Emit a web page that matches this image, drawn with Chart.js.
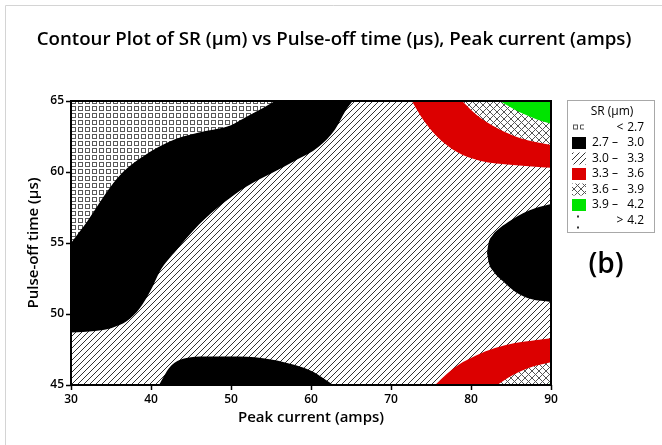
<!DOCTYPE html>
<html>
<head>
<meta charset="utf-8">
<title>Contour Plot of SR</title>
<script src="https://cdn.jsdelivr.net/npm/chart.js@4.4.1/dist/chart.umd.min.js"></script>
<style>
  html, body { margin: 0; padding: 0; background: #fff; }
  canvas { display: block; }
</style>
</head>
<body>
<canvas id="chart" width="662" height="445"></canvas>
<script>
// Axis ticks
const peakCurrentTicks = [30, 40, 50, 60, 70, 80, 90];
const pulseOffTicks = [45, 50, 55, 60, 65];

// Legend bands of SR (µm)
const bandLow  = ['<', '2.7', '3.0', '3.3', '3.6', '3.9', '>'];
const bandHigh = ['2.7', '3.0', '3.3', '3.6', '3.9', '4.2', '4.2'];

// Contour boundaries: [peak current (amps), pulse-off time (µs)]
// SR = 2.7 (upper-left)
const sr27Upper = [[30,55.0],[32,56.5],[34,58.2],[35,59.0],[36.5,60.0],[39,61.1],[43,62.3],[47,62.9],[50,63.3],[52,63.9],[54,64.5],[55.5,65]];
// SR = 3.0 (left band)
const sr30Left = [[30,48.7],[33,48.8],[35,49.0],[37,49.5],[38.6,50.4],[40,51.7],[41.1,53.0],[43.2,54.5],[46,56.3],[49,57.8],[52,59.0],[55,59.9],[58,60.8],[61,61.8],[63,63.0],[64.3,64.3],[65.2,65]];
// SR = 3.0 (bottom pocket)
const sr30Bottom = [[41,45],[41.8,45.8],[42.6,46.4],[44,46.85],[47,47.0],[51,47.0],[55,46.8],[58,46.4],[60,46.0],[61.5,45.5],[62.8,45]];
// SR = 3.0 (right pocket, upper and lower halves)
const sr30RightUpper = [[82.0,54.3],[82.2,55.0],[82.7,55.55],[83.6,56.05],[85,56.6],[86.5,57.1],[88,57.45],[90,57.75]];
const sr30RightLower = [[82.0,54.3],[82.25,53.55],[82.8,53.0],[84,52.3],[85.7,51.5],[87.5,51.05],[90,50.85]];
// Upper-right corner: SR = 3.3, 3.6, 3.9
const sr33Top = [[72.6,65],[74,63.7],[75.75,62.5],[78.25,61.4],[81.1,60.8],[85.25,60.5],[90,60.3]];
const sr36Top = [[78.9,65],[80.75,64.0],[83.25,63.1],[86.1,62.4],[90,61.9]];
const sr39Top = [[83.6,65],[86.1,64.2],[88.25,63.7],[90,63.4]];
// Lower-right corner: SR = 3.3, 3.6, 3.9
const sr33Bottom = [[75.5,45],[77,45.8],[78.5,46.45],[80.5,47.05],[83,47.6],[85.5,47.95],[88,48.15],[90,48.3]];
const sr36Bottom = [[83.25,45],[85.25,45.7],[87.75,46.3],[90,46.6]];
const sr39Bottom = [[89.6,45],[90,45.15]];
// Full plotting region floor
const regionFloor = [[30,45],[90,45]];

const RED = '#dc0000';
const GREEN = '#00e400';

// Fill patterns
function tile(w, h, draw) {
  const c = document.createElement('canvas');
  c.width = w; c.height = h;
  const g = c.getContext('2d');
  g.fillStyle = '#fff';
  g.fillRect(0, 0, w, h);
  draw(g);
  return g.createPattern(c, 'repeat');
}
const hatchPattern = tile(6, 6, g => {
  g.strokeStyle = '#333';
  g.lineWidth = 1;
  g.beginPath();
  g.moveTo(-1, 7); g.lineTo(7, -1);
  g.moveTo(-1, 1); g.lineTo(1, -1);
  g.moveTo(5, 7); g.lineTo(7, 5);
  g.stroke();
});
const crossPattern = tile(7, 7, g => {
  g.strokeStyle = '#555';
  g.lineWidth = 1;
  g.beginPath();
  g.moveTo(-1, 8); g.lineTo(8, -1);
  g.moveTo(-1, -1); g.lineTo(8, 8);
  g.stroke();
});
const squarePattern = tile(7, 7, g => {
  g.strokeStyle = '#5a5a5a';
  g.lineWidth = 1;
  g.strokeRect(1.5, 1.5, 4, 4);
});

const pts = arr => arr.map(([x, y]) => ({x, y}));

function region(data, fill, color, order) {
  return {
    data: pts(data),
    showLine: true,
    fill: fill,
    backgroundColor: color,
    borderWidth: 0,
    borderColor: 'rgba(0,0,0,0)',
    pointRadius: 0,
    pointHoverRadius: 0,
    cubicInterpolationMode: 'monotone',
    order: order
  };
}

const datasets = [
  region(regionFloor, 'end', hatchPattern, 20),       // 0: 3.0 – 3.3 everywhere
  region(sr30Left, 'end', '#000', 19),               // 1: 2.7 – 3.0 band
  region(sr27Upper, 'end', squarePattern, 18),       // 2: < 2.7
  region(sr30Bottom, 'start', '#000', 17),           // 3: bottom pocket
  region(sr30RightUpper, 5, '#000', 16),             // 4 -> 5: right pocket
  region(sr30RightLower, false, 'rgba(0,0,0,0)', 15),
  region(sr33Top, 'end', RED, 14),
  region(sr36Top, 'end', crossPattern, 13),
  region(sr39Top, 'end', GREEN, 12),
  region(sr33Bottom, 'start', RED, 11),
  region(sr36Bottom, 'start', crossPattern, 10),
  region(sr39Bottom, 'start', GREEN, 9)
];

const legendFills = [null, '#000', hatchPattern, RED, crossPattern, GREEN, null];

const FONT = "'Open Sans', 'Noto Sans', sans-serif";
const TITLE = 'Contour Plot of SR (μm) vs Pulse-off time (μs), Peak current (amps)';

const decorations = {
  id: 'decorations',
  beforeDraw(chart) {
    const ctx = chart.ctx;
    ctx.save();
    ctx.strokeStyle = '#d4d4d4';
    ctx.lineWidth = 1;
    ctx.beginPath();
    ctx.moveTo(5.5, 445); ctx.lineTo(5.5, 5.5); ctx.lineTo(662, 5.5);
    ctx.stroke();
    // chart title
    ctx.fillStyle = '#000';
    ctx.font = `600 18.7px ${FONT}`;
    ctx.textAlign = 'center';
    ctx.textBaseline = 'middle';
    ctx.fillText(TITLE, 334, 40);
    ctx.restore();
  },
  afterDatasetsDraw(chart) {
    const {ctx, chartArea: a} = chart;
    ctx.save();
    ctx.strokeStyle = '#000';
    ctx.lineWidth = 2;
    ctx.strokeRect(a.left, a.top, a.right - a.left, a.bottom - a.top);
    ctx.restore();
  },
  afterDraw(chart) {
    const ctx = chart.ctx;
    ctx.save();
    // legend box
    ctx.strokeStyle = '#a8a8a8';
    ctx.lineWidth = 1;
    ctx.strokeRect(567.5, 100.5, 87, 132);
    ctx.fillStyle = '#000';
    ctx.font = `12px ${FONT}`;
    ctx.textBaseline = 'middle';
    ctx.textAlign = 'center';
    ctx.fillText('SR (µm)', 612, 112);
    const rowY = 127.5, step = 15.5;
    for (let i = 0; i < bandLow.length; i++) {
      const y = rowY + i * step;
      if (i === 0) {
        // open squares swatch
        ctx.strokeStyle = '#555';
        ctx.lineWidth = 1;
        ctx.strokeRect(573.5, y - 2.5, 4, 4);
        ctx.beginPath();
        ctx.moveTo(584, y - 2.5); ctx.lineTo(580.5, y - 2.5); ctx.lineTo(580.5, y + 1.5); ctx.lineTo(584, y + 1.5);
        ctx.stroke();
      } else if (i === 6) {
        // dotted swatch
        ctx.fillStyle = '#333';
        ctx.fillRect(577, y - 5, 2, 2);
        ctx.fillRect(577, y + 6, 2, 2);
      } else {
        ctx.fillStyle = legendFills[i];
        ctx.fillRect(572, y - 6, 14, 12);
      }
      ctx.fillStyle = '#000';
      if (bandLow[i] === '<' || bandLow[i] === '>') {
        ctx.textAlign = 'center';
        ctx.fillText(bandLow[i], 620, y);
      } else {
        ctx.textAlign = 'left';
        ctx.fillText(bandLow[i], 592, y);
        ctx.textAlign = 'center';
        ctx.fillText('–', 615, y);
      }
      ctx.textAlign = 'right';
      ctx.fillText(bandHigh[i], 644, y);
    }
    // panel label
    ctx.textAlign = 'center';
    ctx.font = `600 28px ${FONT}`;
    ctx.fillText('(b)', 606, 265);
    ctx.restore();
  }
};

new Chart(document.getElementById('chart'), {
  type: 'scatter',
  data: { datasets },
  options: {
    responsive: false,
    devicePixelRatio: 1,
    animation: false,
    events: [],
    layout: { padding: { left: 0, right: 111, top: 101, bottom: 0 } },
    plugins: {
      legend: { display: false },
      tooltip: { enabled: false },
      filler: { propagate: false },
      title: { display: false }
    },
    scales: {
      x: {
        type: 'linear',
        min: 30, max: 90,
        afterBuildTicks: s => { s.ticks = peakCurrentTicks.map(v => ({value: v})); },
        afterFit: s => { s.height = 60; },
        grid: { drawOnChartArea: false, drawTicks: true, tickLength: 5, tickColor: '#000', tickWidth: 1.5 },
        border: { display: false },
        ticks: { color: '#000', padding: 2, font: { family: FONT, size: 12, weight: '600' } },
        title: {
          display: true, text: 'Peak current (amps)', color: '#000',
          font: { family: FONT, size: 15, weight: '600', lineHeight: 1.2 },
          padding: { top: 0, bottom: 18 }
        }
      },
      y: {
        type: 'linear',
        min: 45, max: 65,
        afterBuildTicks: s => { s.ticks = pulseOffTicks.map(v => ({value: v})); },
        afterFit: s => { s.width = 71; },
        grid: { drawOnChartArea: false, drawTicks: true, tickLength: 5, tickColor: '#000', tickWidth: 1.5 },
        border: { display: false },
        ticks: { color: '#000', padding: 2, font: { family: FONT, size: 12, weight: '600' } },
        title: {
          display: true, text: 'Pulse-off time (µs)', color: '#000',
          font: { family: FONT, size: 15, weight: '600', lineHeight: 1.2 },
          padding: { top: 25, bottom: 0 }
        }
      }
    }
  },
  plugins: [decorations]
});
</script>
</body>
</html>
